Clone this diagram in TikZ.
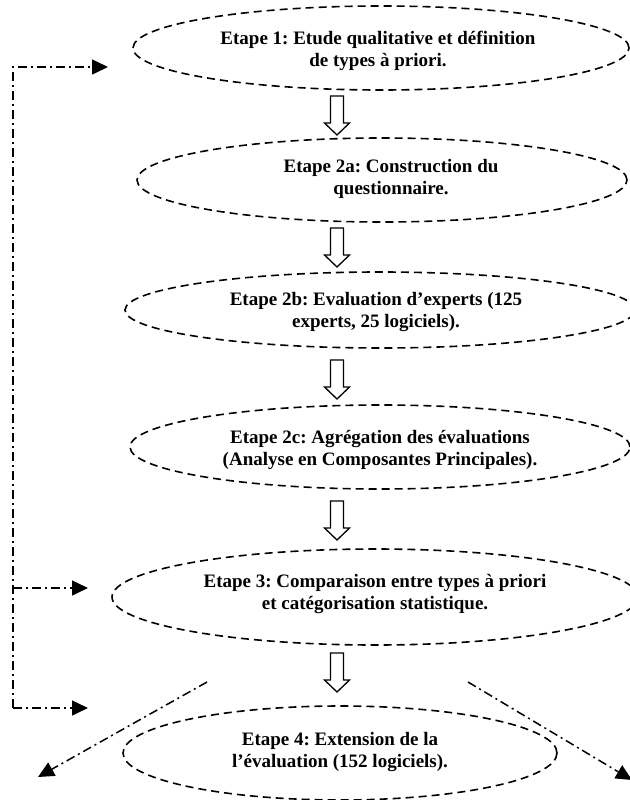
\documentclass[tikz,border=0pt]{standalone}
\usepackage{fontspec}
\setmainfont{Liberation Serif}
\usetikzlibrary{shapes.geometric,arrows.meta}
\tikzset{
  stage/.style={draw, ellipse, dash pattern=on 8pt off 5pt, line width=1.6pt, inner sep=0pt},
  label/.style={font=\fontsize{19}{22}\selectfont\bfseries, align=center, inner sep=0pt},
  hollow/.pic={\draw[line width=1.3pt, line join=miter] (-6.5,0) -- (6.5,0) -- (6.5,27) -- (12.5,27) -- (0,39) -- (-12.5,27) -- (-6.5,27) -- cycle;},
  dashdot/.style={line width=1.5pt, dash pattern=on 9pt off 4pt on 2pt off 4pt},
  feed/.style={dashdot, -{Triangle[length=16pt,width=15pt]}}
}
\begin{document}
\frenchspacing
\begin{tikzpicture}[x=1pt,y=-1pt]
\useasboundingbox (0,0) rectangle (629,800);
% stages
\node[stage, minimum width=496pt, minimum height=84pt] (e1) at (381,48) {};
\node[stage, minimum width=490pt, minimum height=84pt] (e2a) at (382,180) {};
\node[stage, minimum width=510pt, minimum height=76pt] (e2b) at (380,310) {};
\node[stage, minimum width=500pt, minimum height=84pt] (e2c) at (380,447) {};
\node[stage, minimum width=526pt, minimum height=96pt] (e3) at (375,597) {};
\node[stage, minimum width=434pt, minimum height=94pt] (e4) at (340,753) {};
% texts
\node[label] (t1) at (378,51) {Etape 1: Etude qualitative et définition\\de types à priori.};
\node[label] (t2a) at (391,179) {Etape 2a: Construction du\\questionnaire.};
\node[label] (t2b) at (376,312) {Etape 2b: Evaluation d’experts (125\\experts, 25 logiciels).};
\node[label] (t2c) at (380,450) {Etape 2c: Agrégation des évaluations\\(Analyse en Composantes Principales).};
\node[label] (t3) at (375,594) {Etape 3: Comparaison entre types à priori\\et catégorisation statistique.};
\node[label] (t4) at (340,752) {Etape 4: Extension de la\\l’évaluation (152 logiciels).};
% hollow arrows
\pic at (337,96) {hollow};
\pic at (337,228) {hollow};
\pic at (337,360) {hollow};
\pic at (337,501) {hollow};
\pic at (337,653) {hollow};
% feedback line
\coordinate (c1) at (13,67);
\coordinate (c2) at (13,588);
\coordinate (c3) at (13,708);
\coordinate (f1) at (108,67);
\coordinate (f2) at (88,588);
\coordinate (f3) at (88,708);
\draw[feed] (c3) -- (c1) -- (f1);
\draw[feed] (c2) -- (f2);
\draw[feed] (c3) -- (f3);
% outgoing diagonals
\coordinate (d1s) at (207,682);
\coordinate (d1e) at (38,777);
\coordinate (d2s) at (468,682);
\coordinate (d2e) at (632,780);
\draw[feed] (d1s) -- (d1e);
\draw[feed] (d2s) -- (d2e);
\end{tikzpicture}
\end{document}
